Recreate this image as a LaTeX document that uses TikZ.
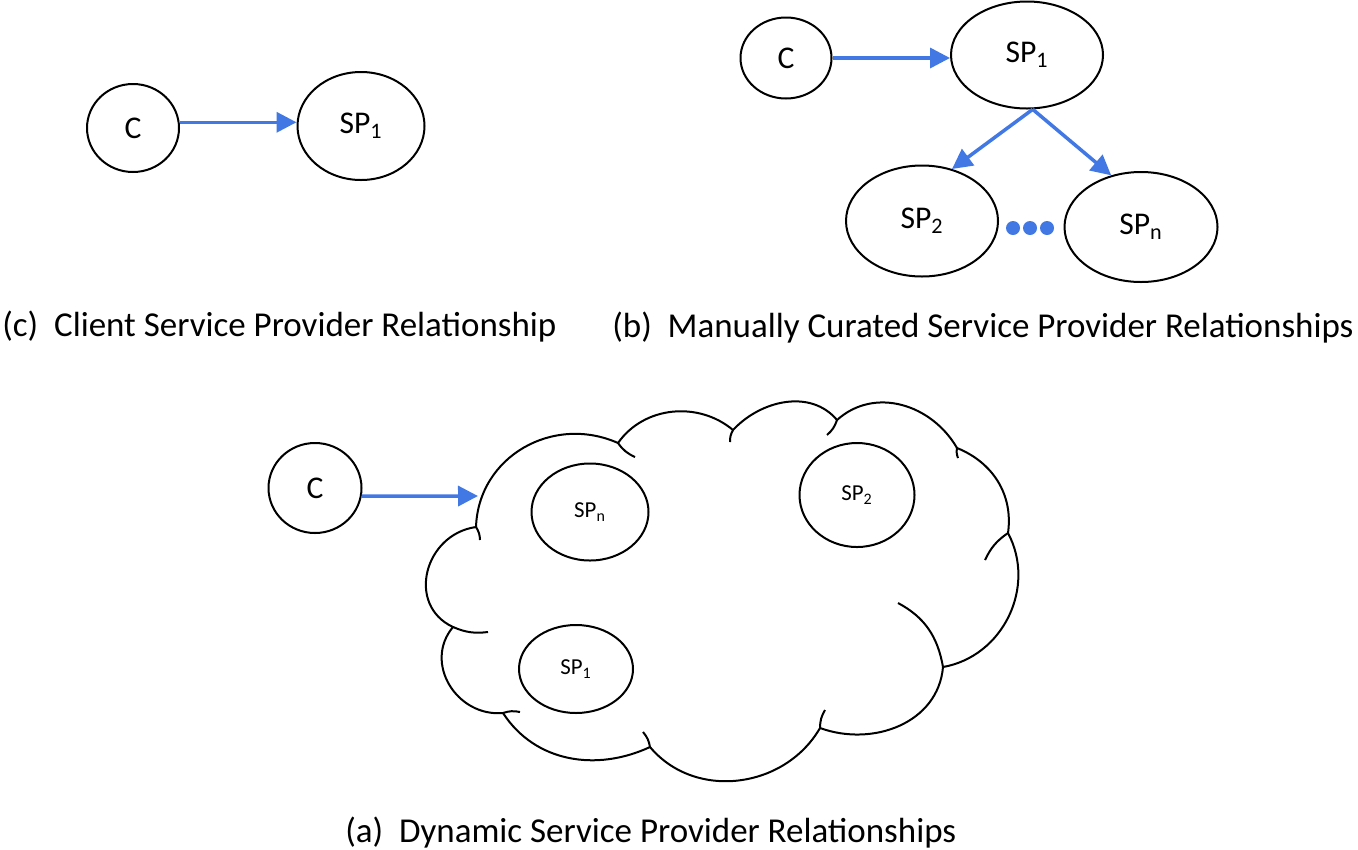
\documentclass[tikz,border=0pt]{standalone}
\usepackage{fontspec}
\setmainfont{Carlito}
\usetikzlibrary{arrows.meta, shapes.geometric}

\definecolor{linkblue}{RGB}{66,120,228}

\begin{document}
\begin{tikzpicture}[
  x=0.02cm, y=0.02cm,
  blob/.style={draw, ellipse, line width=0.04cm, inner sep=0pt,
               font=\fontsize{18}{20}\selectfont},
  smallblob/.style={blob, font=\fontsize{13}{15}\selectfont},
  link/.style={draw=linkblue, line width=0.07cm,
               -{Triangle[length=0.4cm, width=0.4cm]}},
  puff/.style={line width=0.04cm},
  caption/.style={font=\fontsize{19.9}{24}\selectfont, anchor=base west, inner sep=0pt}]

  \def\px{0.02}

  % 1px of the original = \px cm, y runs downwards as -y
  \useasboundingbox (0,0) rectangle (1358,-849);

  % (c) client -> one provider
  \node[blob, minimum width=92*\px cm, minimum height=88*\px cm] (cliC) at (133,-128) {C};
  \node[blob, minimum width=127*\px cm, minimum height=108*\px cm] (cliSP) at (361,-126) {SP\textsubscript{1}};
  \draw[link] (cliC.7) -- (cliC.7 -| cliSP.west);

  % (b) manually curated chain
  \node[blob, minimum width=91*\px cm, minimum height=81*\px cm] (curC) at (786,-58) {C};
  \node[blob, minimum width=152*\px cm, minimum height=107*\px cm] (curSP1) at (1027,-55) {SP\textsubscript{1}};
  \node[blob, minimum width=152*\px cm, minimum height=111*\px cm] (curSP2) at (922,-221) {SP\textsubscript{2}};
  \node[blob, minimum width=153*\px cm, minimum height=110*\px cm] (curSPn) at (1141,-227) {SP\textsubscript{n}};
  \draw[link] (curC.east) -- (curC.east -| curSP1.west);
  \draw[link] (curSP1.-84) -- (curSP2.60);
  \draw[link] (curSP1.-84) -- (curSPn.120);
  \foreach \dx in {1013,1030,1047}
    \fill[linkblue] (\dx,-228) circle[radius=7];

  % (a) dynamic: cloud of providers
  \coordinate (j1) at (476,-527);
  \coordinate (j2) at (618,-443);
  \coordinate (j3) at (733,-430);
  \coordinate (j4) at (837,-420);
  \coordinate (j5) at (957,-448);
  \coordinate (j6) at (1008,-533);
  \coordinate (j7) at (943,-667);
  \coordinate (j8) at (820,-728);
  \coordinate (j9) at (650,-747);
  \coordinate (j10) at (503,-713);
  \coordinate (j11) at (453,-627);

  \draw[puff] (j1) to[out=88, in=156, looseness=1.1] (j2)
    to[out=55, in=140] (j3)
    to[out=47, in=130] (j4)
    to[out=42, in=120, looseness=1.05] (j5)
    to[out=-22, in=82] (j6)
    to[out=-62, in=10, looseness=1.05] (j7)
    to[out=-95, in=-20, looseness=1.05] (j8)
    to[out=240, in=-50, looseness=1.05] (j9)
    to[out=205, in=-57] (j10)
    to[out=185, in=-130, looseness=1.2] (j11)
    to[out=155, in=-172, looseness=1.3] (j1);

  % inner ticks of the cloud
  \draw[puff] (j1) to[bend left=15] (480,-540);
  \draw[puff] (j2) to[bend right=15] (635,-457);
  \draw[puff] (j3) to[bend right=15] (730,-442);
  \draw[puff] (j4) to[bend left=15] (827,-435);
  \draw[puff] (j5) to[bend right=15] (958,-458);
  \draw[puff] (j6) to[bend right=15] (985,-560);
  \draw[puff] (898,-603) to[out=-28, in=100] (j7);
  \draw[puff] (j8) to[bend left=15] (825,-710);
  \draw[puff] (j9) to[bend right=15] (643,-732);
  \draw[puff] (j10) to[bend left=15] (520,-712);
  \draw[puff] (j11) to[bend right=15] (488,-632);

  \node[blob, minimum width=93*\px cm, minimum height=90*\px cm] (dynC) at (315,-488) {C};
  \coordinate (cloudIn) at (478,-496);
  \draw[link] (dynC.-10) -- (cloudIn);
  \node[smallblob, minimum width=117*\px cm, minimum height=97*\px cm] (dynSPn) at (590,-512) {SP\textsubscript{n}};
  \node[smallblob, minimum width=115*\px cm, minimum height=104*\px cm] (dynSP2) at (857,-495) {SP\textsubscript{2}};
  \node[smallblob, minimum width=114*\px cm, minimum height=88*\px cm] (dynSP1) at (576,-669) {SP\textsubscript{1}};

  % captions
  \node[caption] (capC) at (2,-336) {(c)\ \ Client Service Provider Relationship};
  \node[caption] (capB) at (612,-337) {(b)\ \ Manually Curated Service Provider Relationships};
  \node[caption] (capA) at (345,-842) {(a)\ \ Dynamic Service Provider Relationships};

\end{tikzpicture}
\end{document}
